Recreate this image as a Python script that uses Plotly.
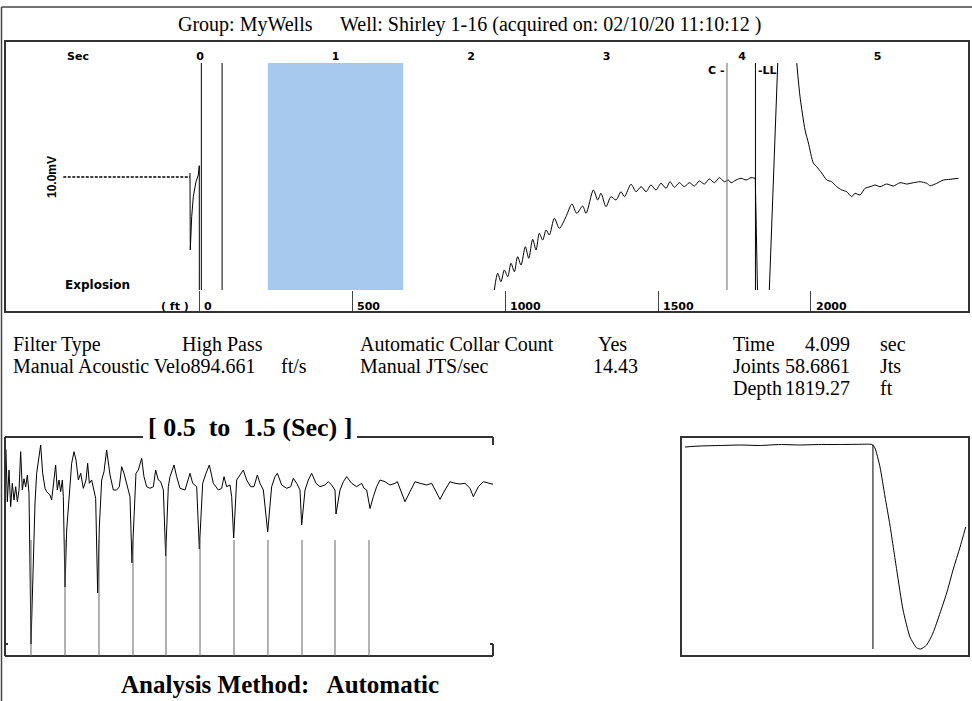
import plotly.graph_objects as go

# ---------------- data ----------------
header_group = "Group: MyWells"
header_well = "Well: Shirley 1-16 (acquired on: 02/10/20 11:10:12 )"

time_tick_vals = [-0.9, 0, 1, 2, 3, 4, 5]
time_tick_text = ["Sec", "0", "1", "2", "3", "4", "5"]
depth_tick_vals = [0, 500, 1000, 1500, 2000]
depth_tick_text = ["0", "500", "1000", "1500", "2000"]

window_sec = [0.5, 1.5]
marker_times = [0.01, 0.163]
collar_time = 3.889
liquid_time = 4.099

# pre-trigger (dashed) part of the acoustic trace
pre_t = [-1.009, -0.074]
pre_a = [0, 0]

# acoustic trace pieces (sec, amplitude); values outside the range are clipped
trig_t = [-0.0738, -0.0716, -0.0613, -0.0494, -0.0295, -0.0125, -0.0052, -0.0044]
trig_a = [4, -73, -39.7, -19.7, -4.7, 2, 11.3, -300]

echo_t = [2.172, 2.197, 2.221, 2.246, 2.271, 2.295, 2.320, 2.344, 2.369, 2.401,
          2.426, 2.455, 2.480, 2.504, 2.529, 2.554, 2.578, 2.615, 2.652, 2.701,
          2.745, 2.780, 2.824, 2.849, 2.903, 2.935, 2.959, 2.996, 3.033, 3.070,
          3.107, 3.132, 3.181, 3.218, 3.255, 3.292, 3.328, 3.365, 3.402, 3.439,
          3.469, 3.501, 3.538, 3.574, 3.611, 3.648, 3.685, 3.722, 3.759, 3.796,
          3.833, 3.870, 3.899, 3.919, 3.956, 3.993, 4.030, 4.066, 4.098]
echo_a = [-113, -96.3, -104.7, -93, -99.7, -86.3, -94.7, -79.7, -88, -69.7,
          -81.3, -62.3, -73, -56.3, -63, -53, -58, -41.3, -51.3, -39.7,
          -27, -36.3, -29, -36.3, -13, -23, -16.3, -29.7, -19.7, -23,
          -14.7, -19.7, -7.3, -14.7, -9.7, -14.7, -8, -13, -6.3, -11.3,
          -4.7, -10.3, -5.7, -9.7, -5.7, -9, -4, -7, -2, -5.7,
          -0.7, -4.7, -3, -5.7, -3, -1.3, -3, -0.7, -1.3]

kick_t = [4.098, 4.125, 4.177, 4.288, 4.391, 4.404]
kick_a = [-1.3, -189, -202, 203, 147, 113.7]

tail_t = [4.404, 4.428, 4.465, 4.490, 4.526, 4.551, 4.588, 4.625, 4.661, 4.699,
          4.736, 4.773, 4.809, 4.834, 4.871, 4.908, 4.945, 4.982, 5.018, 5.068,
          5.117, 5.166, 5.216, 5.265, 5.314, 5.363, 5.388, 5.437, 5.486, 5.535,
          5.597]
tail_a = [113.7, 80.3, 47, 34, 14, 10.3, 4, -3, -4.7, -9.7,
          -13, -14.7, -19.7, -16.3, -18, -11.3, -9.7, -8, -9.7, -7,
          -9, -5.7, -7, -5.7, -4.7, -6.3, -8.7, -6.3, -3, -2.3,
          -1.3]

# zoomed window 0.5 .. 1.5 sec
win_t = [0.5, 0.502, 0.5048, 0.5082, 0.5116, 0.515, 0.5184, 0.5219, 0.5253, 0.5287, 0.5321, 0.5355, 0.5389, 0.5424, 0.5458, 0.5492,
         0.5533,
         0.5581, 0.5615, 0.5649, 0.5683, 0.5731, 0.5772, 0.582, 0.5854, 0.5922, 0.5956, 0.599, 0.6038, 0.6072, 0.6107, 0.6141, 0.6175, 0.6195,
         0.623,
         0.6264, 0.6298, 0.6332, 0.6366, 0.6414, 0.6455, 0.6503, 0.6551, 0.6605, 0.666, 0.6694, 0.6728, 0.6776, 0.6824, 0.6858,
         0.6899,
         0.6933, 0.6981, 0.7029, 0.7083, 0.7152, 0.722, 0.7288, 0.7343, 0.7391, 0.7439, 0.7493, 0.7561,
         0.7602,
         0.763, 0.7684, 0.7732, 0.7801, 0.7848, 0.7903, 0.7971, 0.804, 0.8087, 0.8142, 0.819, 0.8245,
         0.8292,
         0.8347, 0.8381, 0.8463, 0.8518, 0.8586, 0.8689, 0.8757, 0.8791, 0.8846, 0.8928,
         0.8982,
         0.9051, 0.9119, 0.9187, 0.9269, 0.9372, 0.944, 0.9488, 0.9542, 0.9611, 0.9645,
         0.9686,
         0.9747, 0.9816, 0.9884, 0.9952, 1.0034, 1.0102, 1.0171, 1.0225, 1.0294,
         1.0383,
         1.0464, 1.0533, 1.0581, 1.067, 1.0772, 1.0854, 1.0908, 1.0977, 1.1045,
         1.1079,
         1.1148, 1.1216, 1.1284, 1.1373, 1.1455, 1.1557, 1.1626, 1.1694, 1.1762,
         1.1783,
         1.1865, 1.1933, 1.2001, 1.2104, 1.2206, 1.2309, 1.2357, 1.2411,
         1.248,
         1.2548, 1.2616, 1.2684, 1.2787, 1.2889, 1.2992, 1.304, 1.3094,
         1.3197,
         1.3299, 1.3402, 1.3504, 1.3641, 1.3743, 1.3811,
         1.3914,
         1.4016, 1.4119, 1.4221, 1.4324, 1.4426, 1.4529,
         1.4597,
         1.47, 1.4802, 1.4904, 1.5]
win_a = [40.3, 37, -14.7, 17, -19.7, 3.7, -13, 0.3, -14.7, -3.3, 35.3, -3, 8.3, 0, 12, -6.3,
         -157,
         -58, -16, 13.7, 27, 42, 13.7, -1.3, -4.7, -8, -13, 0.3, 22, -3, 7, -4.7, 7, -9.7,
         -100,
         -43, -20, 7, 23.7, 35.3, 27, 7, 13.7, -1.3, 7, 23.7, 3.7, 7, -3, -11.3,
         -106,
         -40, 7, 15.3, 37, 12, -3, -3, 0.3, 20.3, 13.7, 3.7, -9.7,
         -76,
         -50, 13.7, 17, 28.7, 10.3, 0.3, -1.3, 0.3, 17, 7, 5.3, -3,
         -69,
         0.3, 10.3, 22, 10.3, -1.3, -3, 7, 13.7, 3.7, 0.3,
         -62,
         3.7, 13.7, 22, 3.7, -3, -1.3, 10.3, 0.3, 2, -9.7,
         -51,
         7, 12, 17, 7, 0.3, 0.3, 12, 3.7, -3,
         -45,
         0.3, 10.3, 13.7, 2, -1.3, 0.3, 8.7, 3.7, -3,
         -38,
         -3, 7, 13.7, 3.7, 0.3, 2, 5.3, 2, -3,
         -27,
         -3, 5.3, 10.3, 3.7, 0.3, 3.7, -1.3, -3,
         -21.5,
         -9.7, 0.3, 7, 5.3, 2, 3.7, 5.3, -1.3,
         -14.7,
         -4.7, 5.3, 3.7, 2, 3.7, -3,
         -12.3,
         -3, 5.3, 3.7, 3, 3.7, -1.3,
         -9.7,
         0.3, 5.3, 3.7, 2.7]
collar_times = [0.5533, 0.623, 0.6926, 0.7623, 0.8299, 0.8996, 0.9693, 1.0389, 1.1086, 1.1762, 1.2459]
collar_mark_top = -53

# zoom around the liquid level
liq_t = [3.9685, 3.9789, 3.9928, 4.0067, 4.0206, 4.0345, 4.0483, 4.0622, 4.0761, 4.09, 4.0983,
         4.1004, 4.1039, 4.1074, 4.1108, 4.1155, 4.1199, 4.1247, 4.1294, 4.1322, 4.1363,
         4.1407, 4.1456, 4.1502, 4.1546, 4.1595, 4.1634]
liq_a = [-1, 0, 0.5, 1, 0.5, 1.5, 1, 1.5, 1.5, 1.7, 1.5,
         -2, -21, -51, -79, -124, -164, -191, -202, -203, -199,
         -187, -167, -147, -124, -101, -81]

info_rows = [
    # (text, x-pixel, row, anchor)
    ("Filter Type", 11, 0, "left"),
    ("High Pass", 180, 0, "left"),
    ("Automatic Collar Count", 358, 0, "left"),
    ("Yes", 596, 0, "left"),
    ("Time", 731, 0, "left"),
    ("4.099", 852, 0, "right"),
    ("sec", 878, 0, "left"),
    ("Manual Acoustic Velo894.661", 11, 1, "left"),
    ("ft/s", 279, 1, "left"),
    ("Manual JTS/sec", 358, 1, "left"),
    ("14.43", 591, 1, "left"),
    ("Joints", 731, 1, "left"),
    ("58.6861", 852, 1, "right"),
    ("Jts", 878, 1, "left"),
    ("Depth", 731, 2, "left"),
    ("1819.27", 852, 2, "right"),
    ("ft", 878, 2, "left"),
]
window_title = "[ 0.5\u00a0 to\u00a0 1.5 (Sec) ]"
method_text = "Analysis Method:\u00a0\u00a0 Automatic"

# ---------------- layout helpers ----------------
W, H = 972, 701
def X(px):
    return px / W
def Y(py):
    return 1 - py / H

SERIF = "Liberation Serif, Times New Roman, serif"
SANS = "DejaVu Sans, Arial, sans-serif"
NARROW = "Liberation Sans Narrow, Arial Narrow, Liberation Sans, sans-serif"
row_y = [344, 366, 388]
LOW_TOP, LOW_BOT = 437, 656

fig = go.Figure()
black = dict(color="black", width=1)
fig.add_trace(go.Scatter(x=pre_t, y=pre_a, xaxis="x", yaxis="y", mode="lines",
                         line=dict(color="black", width=1.5, dash="3px,1.5px"), hoverinfo="skip"))
fig.add_trace(go.Scatter(x=trig_t, y=trig_a, xaxis="x", yaxis="y", mode="lines", line=black, hoverinfo="skip"))
fig.add_trace(go.Scatter(x=echo_t, y=echo_a, xaxis="x", yaxis="y", mode="lines",
                         line=dict(color="black", width=1, shape="spline", smoothing=0.8), hoverinfo="skip"))
fig.add_trace(go.Scatter(x=kick_t, y=kick_a, xaxis="x", yaxis="y", mode="lines", line=black, hoverinfo="skip"))
fig.add_trace(go.Scatter(x=tail_t, y=tail_a, xaxis="x", yaxis="y", mode="lines",
                         line=dict(color="black", width=1, shape="spline", smoothing=0.6), hoverinfo="skip"))
fig.add_trace(go.Scatter(x=depth_tick_vals, y=[None] * len(depth_tick_vals), xaxis="x2", yaxis="y",
                         mode="lines", hoverinfo="skip"))
n = min(len(win_t), len(win_a))
fig.add_trace(go.Scatter(x=win_t[:n], y=win_a[:n], xaxis="x3", yaxis="y3", mode="lines", line=black, hoverinfo="skip"))
fig.add_trace(go.Scatter(x=liq_t, y=liq_a, xaxis="x4", yaxis="y4", mode="lines",
                         line=dict(color="black", width=1, shape="spline", smoothing=0.5), hoverinfo="skip"))

hidden = dict(showgrid=False, zeroline=False, showline=False, showticklabels=False, ticks="")
fig.update_layout(
    width=W, height=H, autosize=False, showlegend=False,
    margin=dict(l=0, r=0, t=0, b=0),
    paper_bgcolor="white", plot_bgcolor="rgba(0,0,0,0)",
    xaxis=dict(domain=[X(5), X(969)], range=[-1.439, 5.675], anchor="y", side="top",
               showgrid=False, zeroline=False, showline=False, ticks="",
               tickmode="array", tickvals=time_tick_vals,
               ticktext=["<b>%s</b>" % s for s in time_tick_text],
               tickfont=dict(family=SANS, size=11, color="black")),
    xaxis2=dict(overlaying="x", anchor="y", side="bottom", range=[-635.4, 2517.0],
                showgrid=False, zeroline=False, showline=False, showticklabels=False,
                ticks="outside", ticklen=22, tickwidth=1, tickcolor="#444",
                tickmode="array", tickvals=depth_tick_vals),
    yaxis=dict(domain=[Y(290), Y(63)], range=[-113, 114], anchor="x", **hidden),
    xaxis3=dict(domain=[X(5), X(493)], range=window_sec, anchor="y3", **hidden),
    yaxis3=dict(domain=[Y(LOW_BOT), Y(LOW_TOP)], range=[-169, 50], anchor="x3", **hidden),
    xaxis4=dict(domain=[X(681), X(969)], range=[3.9657, 4.1657], anchor="y4", **hidden),
    yaxis4=dict(domain=[Y(LOW_BOT), Y(LOW_TOP)], range=[-210, 9], anchor="x4", **hidden),
)

shapes = []
frame = dict(color="#333", width=2)
# outer frame
shapes.append(dict(type="line", xref="paper", yref="paper", x0=X(1.5), x1=X(972), y0=Y(7), y1=Y(7), line=dict(color="#444", width=1.5)))
shapes.append(dict(type="line", xref="paper", yref="paper", x0=X(1.5), x1=X(1.5), y0=Y(7), y1=Y(701), line=dict(color="#444", width=1.5)))
# top panel frame
shapes.append(dict(type="rect", xref="paper", yref="paper", x0=X(5), x1=X(969), y0=Y(312), y1=Y(41), line=frame))
# analysis window
shapes.append(dict(type="rect", xref="x", yref="y domain", x0=window_sec[0], x1=window_sec[1], y0=0, y1=1,
                   fillcolor="#A8C9EE", line=dict(width=0), layer="below"))
for t in marker_times:
    shapes.append(dict(type="line", xref="x", yref="y domain", x0=t, x1=t, y0=0, y1=1, line=dict(color="black", width=1)))
shapes.append(dict(type="line", xref="x", yref="y domain", x0=collar_time, x1=collar_time, y0=0, y1=1, line=dict(color="#666", width=1)))
shapes.append(dict(type="line", xref="x", yref="y domain", x0=liquid_time, x1=liquid_time, y0=0, y1=1, line=dict(color="black", width=1)))
# lower-left frame (open on the right, broken by the title)
for (a, b, c, d) in [(5, LOW_TOP, 5, LOW_BOT), (5, LOW_BOT, 493, LOW_BOT), (5, LOW_TOP, 143, LOW_TOP),
                     (357, LOW_TOP, 493, LOW_TOP), (493, LOW_TOP, 493, LOW_TOP + 8), (493, 644, 493, LOW_BOT),
                     (5, 644, 8, 644), (490, 644, 493, 644)]:
    shapes.append(dict(type="line", xref="paper", yref="paper", x0=X(a), x1=X(c), y0=Y(b), y1=Y(d), line=frame))
for t in collar_times:
    shapes.append(dict(type="line", xref="x3", yref="y3", x0=t, x1=t, y0=collar_mark_top, y1=-169,
                       line=dict(color="#666", width=1)))
# lower-right frame
shapes.append(dict(type="rect", xref="paper", yref="paper", x0=X(681), x1=X(969), y0=Y(LOW_BOT), y1=Y(LOW_TOP), line=frame))
shapes.append(dict(type="line", xref="x4", yref="y4", x0=liquid_time, x1=liquid_time, y0=liq_a[10], y1=min(liq_a),
                   line=dict(color="black", width=1)))
fig.update_layout(shapes=shapes)

ann = []
def text(s, px, py, size, family=SERIF, xanchor="left", **kw):
    ann.append(dict(text=s, x=X(px), y=Y(py), xref="paper", yref="paper", xanchor=xanchor, yanchor="middle",
                    showarrow=False, font=dict(family=family, size=size, color="black"), **kw))

text(header_group, 176, 24, 20)
text(header_well, 338, 24, 20)
text("<b>( ft )</b>", 191, 306, 11, SANS, "right")
for v, s in zip(depth_tick_vals, depth_tick_text):
    ann.append(dict(text="<b>%s</b>" % s, x=v, xref="x2", y=Y(306), yref="paper", xanchor="left", yanchor="middle",
                    xshift=3, showarrow=False, font=dict(family=SANS, size=11, color="black")))
text("<b>Explosion</b>", 63, 285, 12, SANS)
text("<b>10.0mV</b>", 52, 177, 12, NARROW, "center", textangle=-90)
ann.append(dict(text="<b>C -</b>", x=collar_time, xref="x", y=Y(70), yref="paper", xanchor="right", yanchor="middle",
                xshift=-1, showarrow=False, font=dict(family=SANS, size=11, color="black")))
ann.append(dict(text="<b>-LL</b>", x=liquid_time, xref="x", y=Y(70), yref="paper", xanchor="left", yanchor="middle",
                xshift=1, showarrow=False, font=dict(family=SANS, size=11, color="black")))
for s, px, r, anc in info_rows:
    text(s, px, row_y[r], 20, SERIF, anc)
text("<b>%s</b>" % window_title, 250, 427, 26, SERIF, "center")
text("<b>%s</b>" % method_text, 280, 684, 25, SERIF, "center")
fig.update_layout(annotations=ann)

fig.write_html("out.html", config={"displayModeBar": False},
               post_script="document.body.style.margin='0px';document.body.style.overflow='hidden';")
